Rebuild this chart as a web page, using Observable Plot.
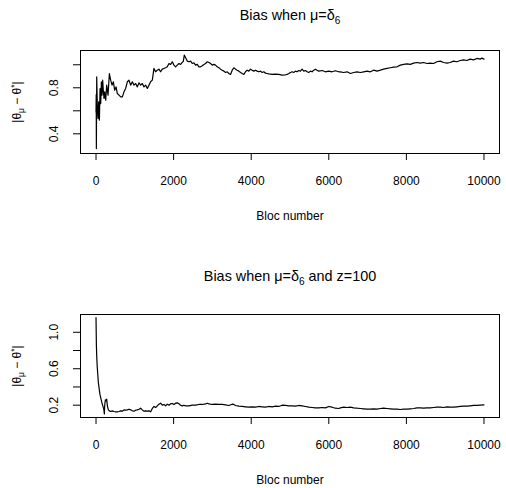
<!DOCTYPE html>
<html><head><meta charset="utf-8">
<script src="https://cdn.jsdelivr.net/npm/d3@7"></script>
<script src="https://cdn.jsdelivr.net/npm/@observablehq/plot@0.6"></script>
<style>
html,body{margin:0;padding:0;background:#fff;}
#chart svg{display:block;}
</style></head><body><div id="chart"></div>
<script>
// ---- Top panel data: Bias when mu = delta_6 ----
const blocs1 = [
  0,5,9,18,35,52,69,87,104,121,
  138,155,172,190,207,224,250,275,310,344,
  378,413,447,481,516,550,593,636,679,721,
  764,807,850,893,936,979,1022,1065,1108,1150,
  1193,1236,1279,1322,1365,1408,1451,1494,1537,1580,
  1622,1665,1708,1751,1794,1837,1880,1923,1966,2009,
  2052,2094,2137,2180,2223,2250,2275,2309,2352,2395,
  2438,2481,2524,2566,2609,2652,2695,2738,2781,2824,
  2867,2910,2953,2995,3038,3081,3124,3167,3210,3253,
  3296,3339,3382,3424,3467,3510,3553,3596,3639,3682,
  3725,3768,3811,3853,3896,3939,3982,4025,4068,4111,
  4154,4197,4240,4282,4325,4368,4411,4454,4540,4626,
  4711,4797,4883,4926,4969,5012,5055,5098,5140,5183,
  5226,5269,5312,5355,5398,5441,5484,5527,5569,5612,
  5655,5698,5741,5827,5913,5998,6084,6170,6256,6299,
  6385,6471,6556,6642,6728,6814,6900,6985,7071,7157,
  7243,7329,7414,7500,7586,7672,7758,7843,7929,8015,
  8101,8187,8272,8358,8444,8530,8616,8701,8787,8873,
  8959,9045,9130,9216,9302,9388,9474,9559,9645,9731,
  9817,9903,9946,10000
];
const bias1 = [
  0.59,0.74,0.272,0.895,0.62,0.533,0.678,0.519,0.794,0.663,
  0.852,0.736,0.866,0.765,0.707,0.765,0.692,0.823,0.736,0.924,
  0.866,0.823,0.852,0.779,0.808,0.750,0.736,0.721,0.721,0.765,
  0.794,0.852,0.866,0.823,0.852,0.823,0.837,0.808,0.843,0.823,
  0.837,0.808,0.823,0.794,0.823,0.852,0.866,0.968,0.939,0.953,
  0.962,0.939,0.962,0.968,0.974,0.982,1.011,1.003,1.026,0.997,
  0.982,0.997,1.011,1.003,1.020,1.030,1.085,1.061,1.032,1.026,
  1.032,1.011,1.017,0.997,1.003,0.982,0.982,0.991,1.003,1.011,
  1.026,1.020,1.011,0.997,1.003,0.997,0.982,0.974,0.962,0.953,
  0.945,0.933,0.939,0.924,0.916,0.953,0.974,0.962,0.953,0.945,
  0.933,0.924,0.916,0.939,0.953,0.945,0.962,0.953,0.945,0.953,
  0.945,0.939,0.945,0.933,0.939,0.927,0.924,0.921,0.916,0.919,
  0.916,0.910,0.913,0.916,0.924,0.933,0.939,0.933,0.945,0.939,
  0.950,0.945,0.962,0.945,0.950,0.939,0.933,0.945,0.939,0.953,
  0.962,0.953,0.945,0.950,0.939,0.945,0.939,0.948,0.939,0.939,
  0.933,0.939,0.924,0.933,0.939,0.933,0.939,0.945,0.939,0.953,
  0.945,0.953,0.962,0.968,0.974,0.979,0.982,0.997,1.003,1.008,
  1.003,1.014,1.020,1.014,1.020,1.011,1.014,1.011,1.026,1.032,
  1.020,1.014,1.020,1.032,1.026,1.037,1.043,1.037,1.049,1.043,
  1.055,1.049,1.058,1.049
];

// ---- Bottom panel data: Bias when mu = delta_6 and z = 100 ----
const blocs2 = [
  0,10,20,30,45,60,80,100,125,150,
  175,200,215,224,241,258,275,293,318,344,
  378,421,464,507,550,593,636,679,721,764,
  807,850,893,936,979,1022,1065,1108,1150,1193,
  1236,1279,1322,1365,1408,1451,1494,1537,1580,1622,
  1665,1708,1751,1794,1837,1880,1923,1966,2009,2052,
  2094,2137,2180,2223,2266,2309,2395,2481,2566,2652,
  2738,2824,2867,2910,2995,3081,3167,3253,3339,3424,
  3510,3553,3596,3682,3768,3853,3939,4025,4111,4197,
  4282,4368,4454,4540,4626,4711,4797,4883,4969,5055,
  5140,5226,5312,5398,5484,5569,5655,5741,5827,5913,
  5998,6084,6170,6256,6299,6385,6471,6556,6642,6728,
  6814,6900,6985,7071,7157,7243,7329,7414,7500,7586,
  7672,7758,7843,7929,8015,8101,8187,8272,8358,8444,
  8530,8616,8701,8787,8873,8959,9045,9130,9216,9302,
  9388,9474,9559,9645,9731,9817,9903,10000
];
const bias2 = [
  1.16,0.85,0.72,0.63,0.54,0.45,0.384,0.321,0.274,0.230,
  0.193,0.156,0.105,0.200,0.259,0.248,0.266,0.193,0.149,0.138,
  0.131,0.138,0.131,0.127,0.127,0.131,0.138,0.134,0.149,0.145,
  0.149,0.156,0.149,0.138,0.134,0.145,0.149,0.156,0.167,0.149,
  0.134,0.138,0.134,0.138,0.127,0.164,0.186,0.175,0.193,0.211,
  0.222,0.200,0.208,0.193,0.211,0.200,0.215,0.219,0.208,0.222,
  0.226,0.215,0.200,0.193,0.200,0.193,0.193,0.200,0.200,0.208,
  0.208,0.215,0.222,0.215,0.208,0.211,0.208,0.208,0.204,0.197,
  0.211,0.208,0.197,0.189,0.186,0.182,0.178,0.182,0.178,0.186,
  0.182,0.178,0.186,0.182,0.189,0.186,0.200,0.197,0.193,0.193,
  0.189,0.197,0.193,0.186,0.178,0.175,0.171,0.171,0.175,0.171,
  0.186,0.178,0.167,0.164,0.171,0.178,0.175,0.178,0.171,0.167,
  0.164,0.160,0.156,0.156,0.160,0.156,0.164,0.167,0.164,0.160,
  0.156,0.156,0.153,0.156,0.156,0.160,0.164,0.171,0.171,0.167,
  0.171,0.171,0.175,0.178,0.178,0.175,0.182,0.178,0.178,0.182,
  0.186,0.189,0.189,0.193,0.197,0.197,0.200,0.204
];

// ---- Axes / text ----
const xTicks = [0, 2000, 4000, 6000, 8000, 10000];
const yTicks1 = [0.4, 0.6, 0.8, 1.0];
const yLabels1 = [0.4, 0.8];
const yTicks2 = [0.2, 0.4, 0.6, 0.8, 1.0];
const yLabels2 = [0.2, 0.6, 1.0];
const xLabel = "Bloc number";
// [text, shift]  shift: 0 normal, 1 subscript, -1 superscript
const titleParts1 = [["Bias when μ=δ", 0], ["6", 1]];
const titleParts2 = [["Bias when μ=δ", 0], ["6", 1], [" and z=100", 0]];
const yLabelParts = [["|θ", 0], ["μ", 1], [" − θ", 0], ["*", -1], ["|", 0]];

const FONT = "'Liberation Sans', Arial, Helvetica, sans-serif";
const joinParts = p => p.map(d => d[0]).join("");

function applyParts(svg, parts, fs) {
  const full = joinParts(parts);
  d3.select(svg).selectAll("text").filter(function () { return this.textContent === full; })
    .each(function () {
      const t = d3.select(this);
      t.text(null);
      let cur = 0; // current baseline offset in px
      for (const [s, shift] of parts) {
        const target = shift === 1 ? 0.28 * fs : shift === -1 ? -0.33 * fs : 0;
        const ts = t.append("tspan").text(s);
        if (target !== cur) { ts.attr("dy", target - cur); cur = target; }
        if (shift !== 0) ts.attr("font-size", 0.7 * fs);
      }
    });
}

function panel(o) {
  const data = o.blocs.map((b, i) => ({bloc: b, bias: o.bias[i]}));
  const svg = Plot.plot({
    width: 506, height: 244,
    marginLeft: 80, marginRight: 7, marginTop: o.marginTop, marginBottom: o.marginBottom,
    style: {fontFamily: FONT, fontSize: "12px", background: "white", color: "black", overflow: "visible"},
    x: {domain: [-400, 10400], label: null},
    y: {domain: o.yDomain, label: null},
    marks: [
      Plot.frame({stroke: "black", strokeWidth: 1}),
      Plot.axisX({ticks: xTicks, tickSize: 7, tickPadding: 15.5, tickFormat: d => String(d), fontSize: 12, label: null}),
      Plot.axisY({ticks: o.yTicks, tickSize: 7, tickFormat: () => "", label: null}),
      Plot.text(o.yLabels, {y: d => d, text: d => d.toFixed(1), frameAnchor: "left", textAnchor: "middle", dx: -26.5, rotate: -90, fontSize: 12}),
      Plot.line(data, {x: "bloc", y: "bias", stroke: "black", strokeWidth: 1.2}),
      Plot.text([joinParts(o.titleParts)], {frameAnchor: "top", textAnchor: "middle", lineAnchor: "bottom", dy: o.titleBaseline - o.marginTop, fontSize: 14.4}),
      Plot.text([xLabel], {frameAnchor: "bottom", textAnchor: "middle", lineAnchor: "bottom", dy: 66, fontSize: 12}),
      Plot.text([joinParts(yLabelParts)], {frameAnchor: "left", textAnchor: "middle", lineAnchor: "bottom", rotate: -90, dx: 20 - 80, fontSize: 12})
    ]
  });
  applyParts(svg, o.titleParts, 14.4);
  applyParts(svg, yLabelParts, 12);
  return svg;
}

const chart = document.getElementById("chart");
chart.appendChild(panel({
  blocs: blocs1, bias: bias1, yDomain: [0.229, 1.124], yTicks: yTicks1, yLabels: yLabels1,
  marginTop: 50, marginBottom: 91, titleParts: titleParts1, titleBaseline: 19
}));
chart.appendChild(panel({
  blocs: blocs2, bias: bias2, yDomain: [0.065, 1.195], yTicks: yTicks2, yLabels: yLabels2,
  marginTop: 70, marginBottom: 71, titleParts: titleParts2, titleBaseline: 36
}));
</script></body></html>
